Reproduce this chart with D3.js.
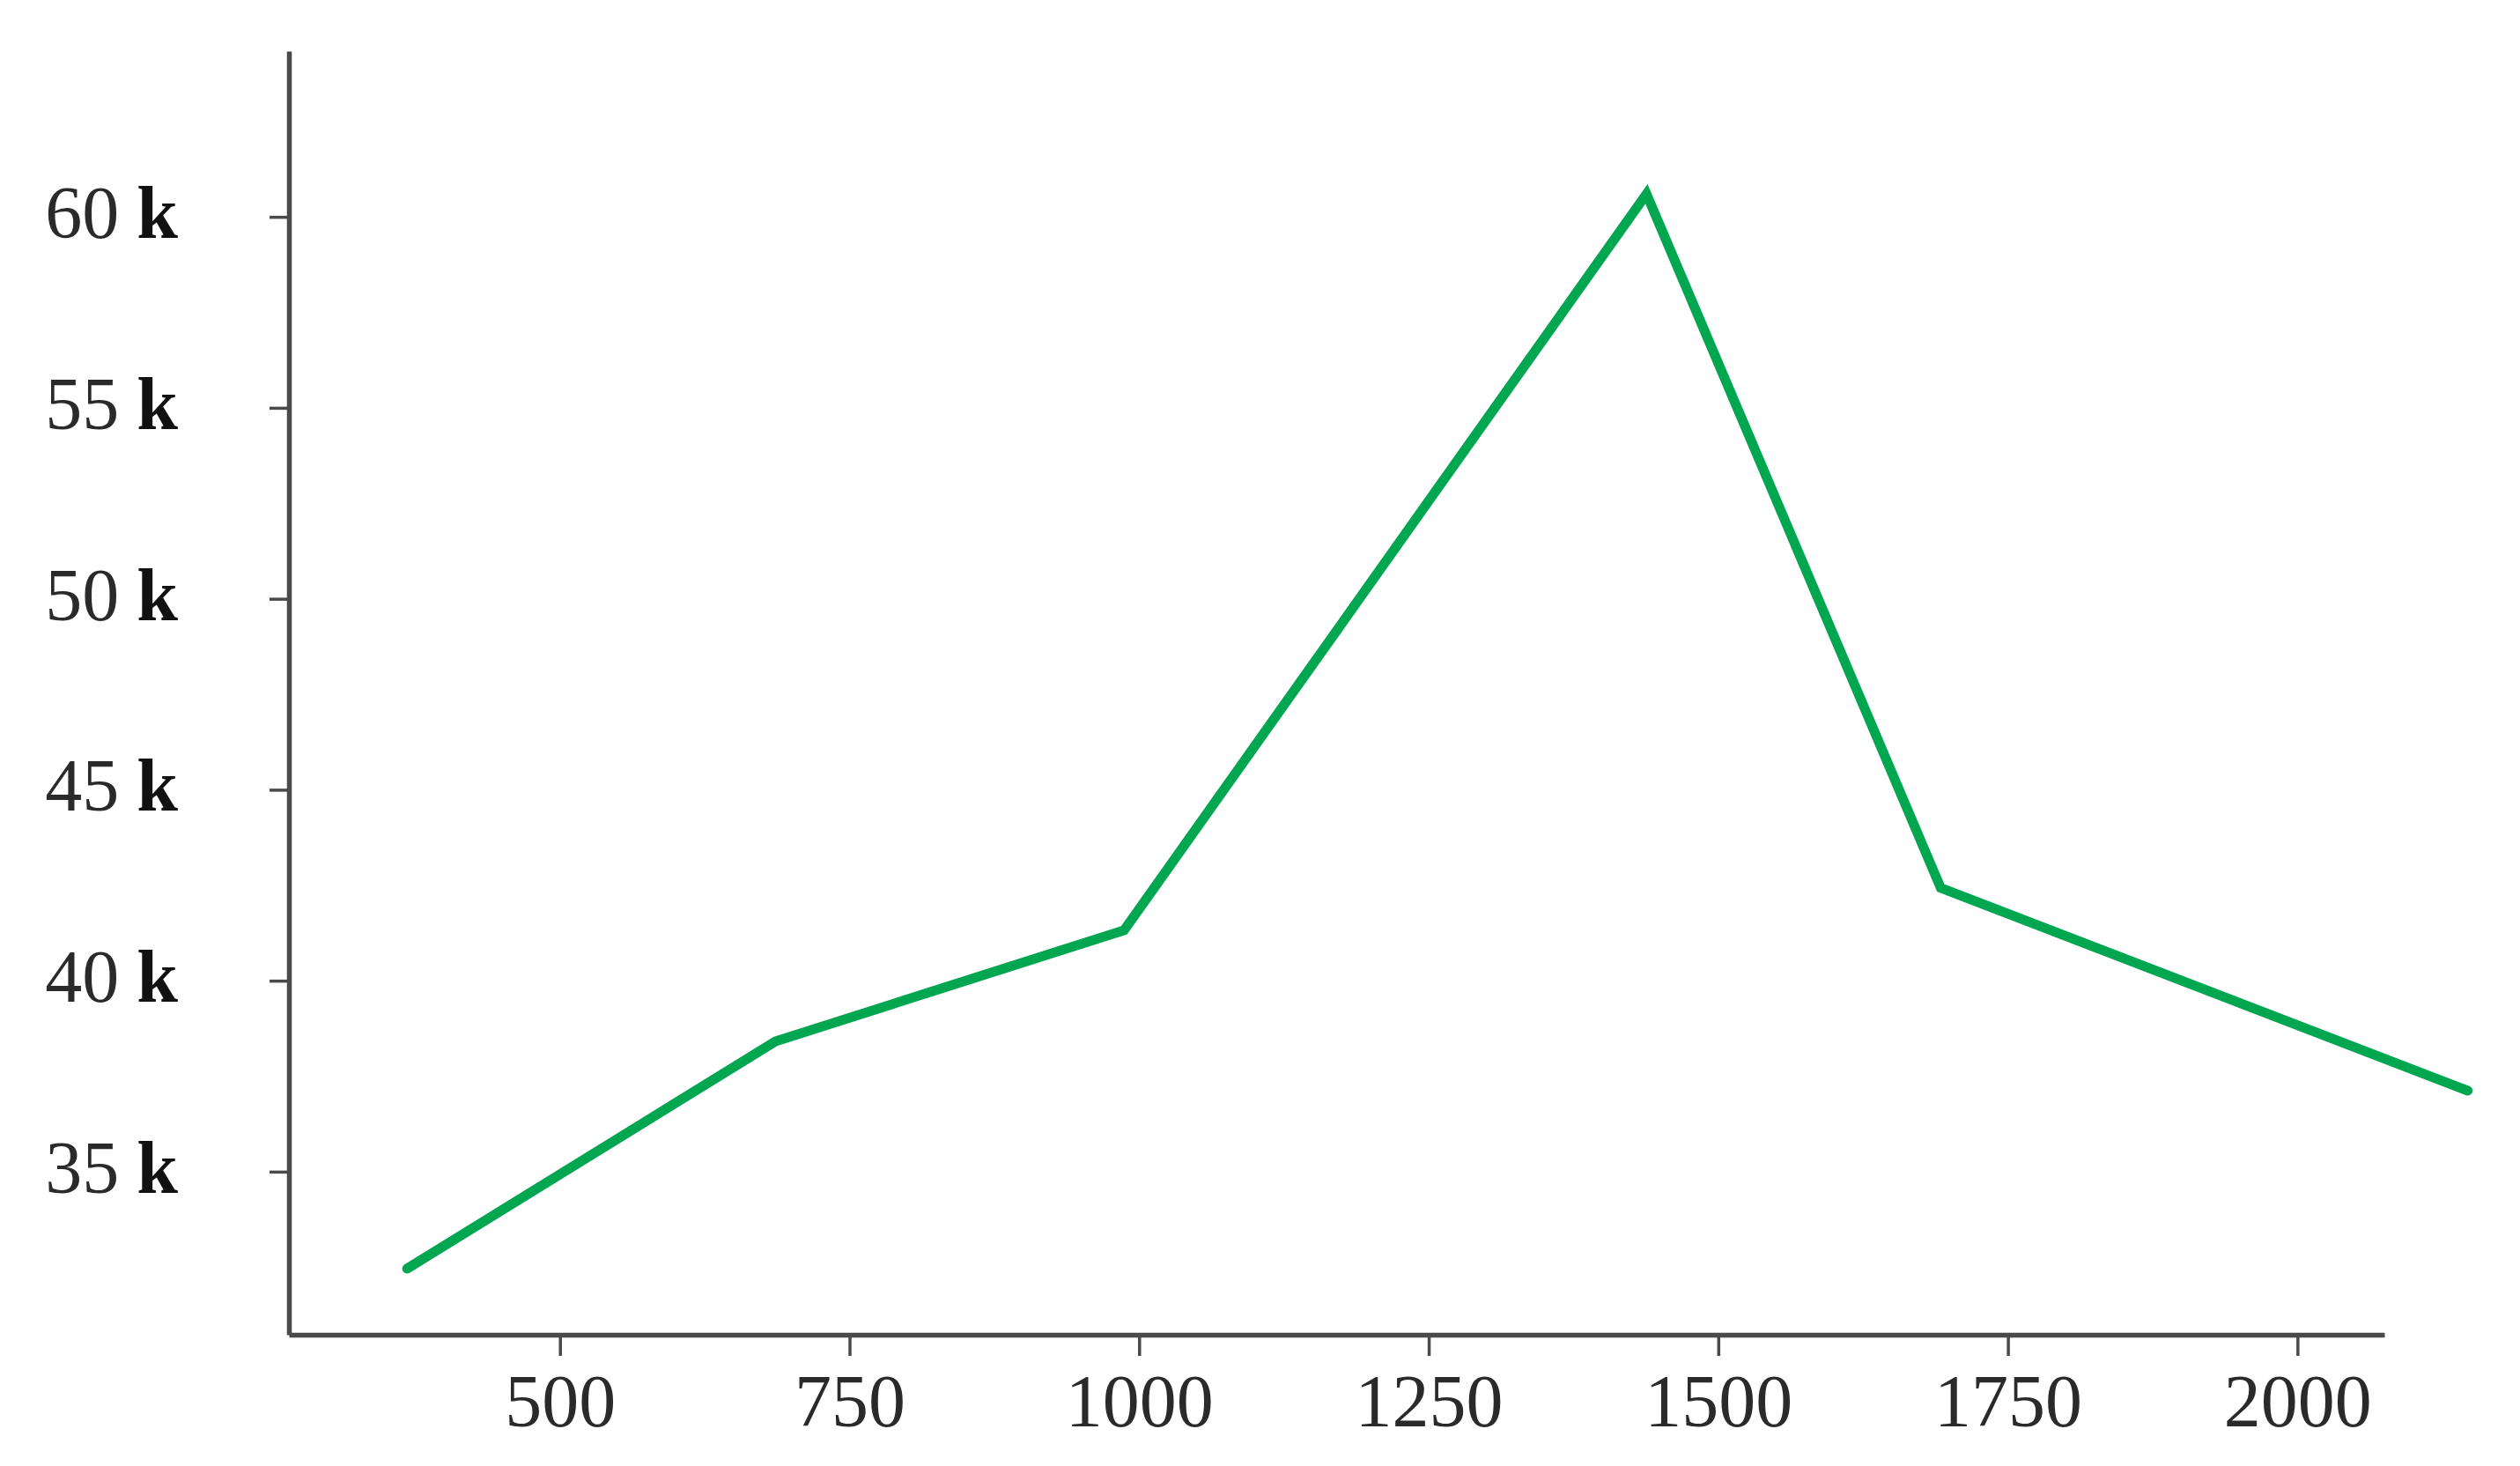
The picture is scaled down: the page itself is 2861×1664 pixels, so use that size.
<!DOCTYPE html>
<html lang="en">
	<head>
		<meta charset="utf-8">
		<title>D3: Line chart</title>
		<script src="https://cdn.jsdelivr.net/npm/d3@7/dist/d3.min.js"></script>
		<style type="text/css">

			body {
				margin: 0;
				background: white;
			}

			.line {
				fill: none;
				stroke: #00a650;
				stroke-width: 11;
				stroke-linecap: round;
				stroke-linejoin: miter;
			}

			.axis path,
			.axis line {
				stroke: #4a4a4a;
			}

			.axis path {
				stroke-width: 5.5;
			}

			.axis line {
				stroke-width: 3.5;
			}

			.axis text {
				font-family: "Liberation Serif", "Times New Roman", serif;
				fill: #2a2a2a;
			}

			.unit {
				font-weight: bold;
				fill: #111;
			}

		</style>
	</head>
	<body>
		<script>

			//Width and height
			var w = 2861;
			var h = 1664;

			//Data
			var xValues = [368, 686, 987, 1438, 1692, 2147];
			var yValues = [32460, 38410, 41320, 60600, 42430, 37120];

			//Tick values
			var xTicks = [500, 750, 1000, 1250, 1500, 1750, 2000];
			var yTicks = [35000, 40000, 45000, 50000, 55000, 60000];

			var dataset = xValues.map(function(x, i) {
				return { x: x, y: yValues[i] };
			});

			//Create scale functions
			var xScale = d3.scaleLinear()
						   .domain([266, 2075])
						   .range([328, 2707]);

			var yScale = d3.scaleLinear()
						   .domain([30730, 64340])
						   .range([1515, 58]);

			//Define axes
			var xAxis = d3.axisBottom()
						  .scale(xScale)
						  .tickValues(xTicks)
						  .tickSize(24)
						  .tickSizeOuter(0)
						  .tickPadding(20)
						  .tickFormat(d3.format("d"));

			var yAxis = d3.axisLeft()
						  .scale(yScale)
						  .tickValues(yTicks)
						  .tickSize(22)
						  .tickSizeOuter(0)
						  .tickPadding(104);

			//Line generator
			var line = d3.line()
						 .x(function(d) { return xScale(d.x); })
						 .y(function(d) { return yScale(d.y); });

			//Create SVG element
			var svg = d3.select("body")
						.append("svg")
						.attr("width", w)
						.attr("height", h);

			//Create axes
			var gx = svg.append("g")
				.attr("class", "axis")
				.attr("transform", "translate(0," + yScale.range()[0] + ")")
				.call(xAxis);

			gx.selectAll("text")
				.style("font-size", "84px");

			var gy = svg.append("g")
				.attr("class", "axis")
				.attr("transform", "translate(" + xScale.range()[0] + ",0)")
				.call(yAxis);

			//Labels are "60 k" with a bold k
			gy.selectAll(".tick text")
				.style("font-size", "84px")
				.attr("dy", "0.28em")
				.text(null)
				.each(function(d) {
					var t = d3.select(this);
					t.append("tspan").text(d / 1000);
					t.append("tspan")
						.attr("class", "unit")
						.attr("dx", 20)
						.text("k");
				});

			//Draw line
			svg.append("path")
				.datum(dataset)
				.attr("class", "line")
				.attr("d", line);

		</script>
	</body>
</html>
